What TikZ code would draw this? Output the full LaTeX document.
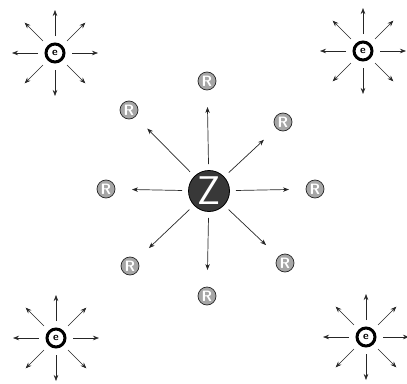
\documentclass[tikz,border=0pt]{standalone}
\usetikzlibrary{calc,arrows.meta}
\begin{document}
\begin{tikzpicture}[x=1pt,y=-1pt,
  arr/.style={-{Stealth[length=6pt,width=4.5pt]},line width=0.7pt,black!85},
  znode/.style={circle,fill=black!78,draw=black,line width=0.8pt,minimum size=41pt,inner sep=0pt,text=white,font=\fontsize{40}{40}\selectfont\sffamily},
  rnode/.style={circle,fill=gray!70,draw=black!85,line width=0.7pt,minimum size=18pt,inner sep=0pt,text=white,font=\fontsize{15}{15}\selectfont\sffamily\bfseries},
  cnode/.style={circle,draw=black,line width=3pt,fill=white,minimum size=18pt,inner sep=0pt,font=\fontsize{11}{11}\selectfont\sffamily\bfseries}]
\useasboundingbox (0,0) rectangle (407,383);
% central Z
\node[znode] (Z) at (209,191) {Z};
% R nodes
\node[rnode] (r90)  at (207,81)  {R};
\node[rnode] (r45)  at (283,122) {R};
\node[rnode] (r0)   at (315,189) {R};
\node[rnode] (r315) at (285,263) {R};
\node[rnode] (r270) at (207,296) {R};
\node[rnode] (r225) at (130,266) {R};
\node[rnode] (r180) at (106,189) {R};
\node[rnode] (r135) at (129,110) {R};
\foreach \a in {90,45,0,315,270,225,180,135}{
  \draw[arr] ($(Z)!27pt!(r\a)$) coordinate (zs\a) -- ($(r\a)!26pt!(Z)$) coordinate (ze\a);
}
% corner sources
\node[cnode] (c1) at (55,53) {e};
\node[cnode] (c2) at (363,51) {e};
\node[cnode] (c3) at (56,338) {e};
\node[cnode] (c4) at (366,337) {e};
\foreach \c in {c1,c2,c3,c4}{
  \foreach \a in {0,45,...,315}{
    \path (\c) ++(\a:-17pt) coordinate (\c s\a) (\c) ++(\a:-43pt) coordinate (\c e\a);
    \draw[arr,line width=0.6pt] (\c s\a) -- (\c e\a);
  }
}
\end{tikzpicture}
\end{document}
